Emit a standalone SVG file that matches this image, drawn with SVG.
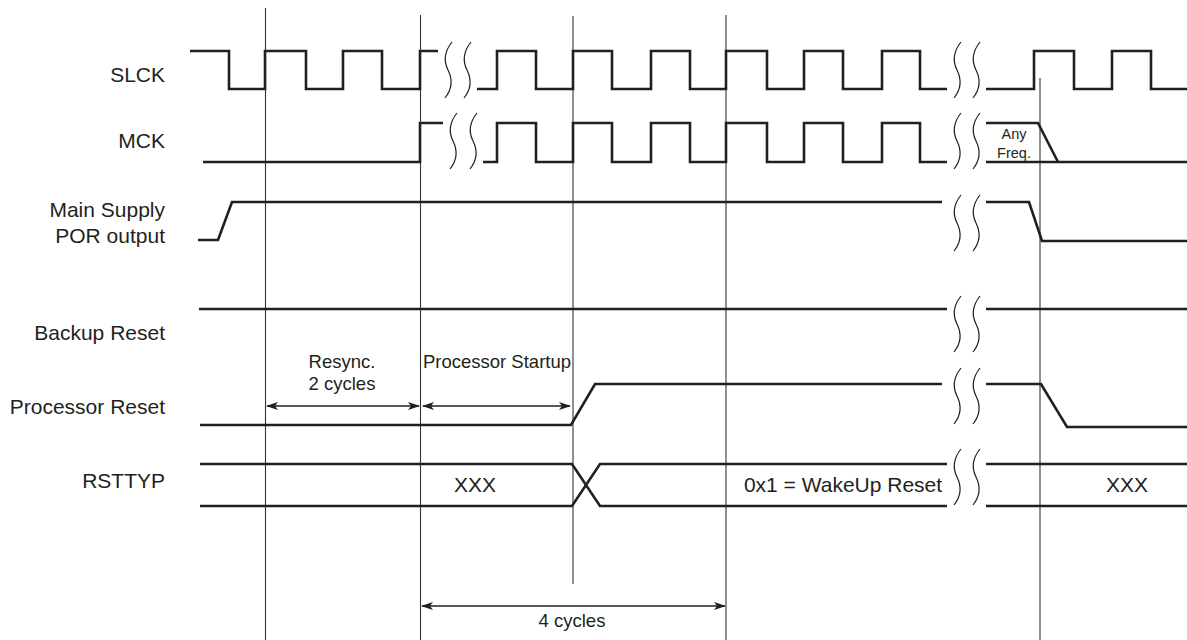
<svg xmlns="http://www.w3.org/2000/svg" width="1187" height="640" viewBox="0 0 1187 640">
<style>
  .sig { fill: none; stroke: #231f20; stroke-width: 2.6; stroke-linejoin: miter; }
  .grid { stroke: #333; stroke-width: 1.1; }
  .brk { fill: none; stroke: #231f20; stroke-width: 1.2; }
  .arr { stroke: #231f20; stroke-width: 1.4; marker-start: url(#ah); marker-end: url(#ah); }
  .lbl { font-family: "Liberation Sans", Arial, sans-serif; font-size: 21px; fill: #231f20; }
  .ann { font-family: "Liberation Sans", Arial, sans-serif; font-size: 18.5px; fill: #231f20; }
  .small { font-family: "Liberation Sans", Arial, sans-serif; font-size: 14.5px; fill: #231f20; }
</style>
<defs>
  <marker id="ah" viewBox="0 0 12 8" refX="11" refY="4" markerWidth="12" markerHeight="8" markerUnits="userSpaceOnUse" orient="auto-start-reverse">
    <path d="M0,0 L12,4 L0,8 L3,4 Z" fill="#231f20"/>
  </marker>
  <path id="bk" class="brk" d="M9,0 C1,10 1,20 5,28 C9,36 10,46 2,56"/>
</defs>
<rect width="1187" height="640" fill="#fff"/>

<g id="gridlines">
  <line class="grid" x1="265.5" y1="8" x2="265.5" y2="640"/>
  <line class="grid" x1="420.5" y1="15" x2="420.5" y2="640"/>
  <line class="grid" x1="573" y1="16" x2="573" y2="584"/>
  <line class="grid" x1="726" y1="15" x2="726" y2="640"/>
  <line class="grid" x1="1040" y1="78" x2="1040" y2="640"/>
</g>

<g id="slck">
  <text class="lbl" x="165" y="82" text-anchor="end">SLCK</text>
  <path class="sig" d="M190,51 H229 V89 H265 V51 H306 V89 H343 V51 H382 V89 H420 V51 H438"/>
  <path class="sig" d="M477,89 H497 V51 H536 V89 H573 V51 H612 V89 H651 V51 H690 V89 H726 V51 H767 V89 H804 V51 H843 V89 H882 V51 H920 V89 H947"/>
  <path class="sig" d="M986,89 H1034 V51 H1074 V89 H1112 V51 H1151 V89 H1187"/>
  <use href="#bk" x="443" y="42"/>
  <use href="#bk" x="462" y="42"/>
  <use href="#bk" x="952" y="42"/>
  <use href="#bk" x="971" y="42"/>
</g>

<g id="mck">
  <text class="lbl" x="165" y="148" text-anchor="end">MCK</text>
  <path class="sig" d="M203,162 H420 V123 H443"/>
  <path class="sig" d="M483,162 H497 V123 H536 V162 H573 V123 H612 V162 H651 V123 H690 V162 H726 V123 H767 V162 H804 V123 H843 V162 H882 V123 H920 V162 H947"/>
  <path class="sig" d="M986,123 H1038 L1058,162"/>
  <path class="sig" d="M986,162 H1187"/>
  <text class="small" x="1014" y="139" text-anchor="middle">Any</text>
  <text class="small" x="1014" y="158" text-anchor="middle">Freq.</text>
  <use href="#bk" x="448" y="113"/>
  <use href="#bk" x="468" y="113"/>
  <use href="#bk" x="952" y="113"/>
  <use href="#bk" x="971" y="113"/>
</g>

<g id="por">
  <text class="lbl" x="165" y="217" text-anchor="end">Main Supply</text>
  <text class="lbl" x="165" y="243" text-anchor="end">POR output</text>
  <path class="sig" d="M198,240 H218 L232,202 H942"/>
  <path class="sig" d="M986,202 H1029 L1042,241 H1187"/>
  <use href="#bk" x="952" y="195"/>
  <use href="#bk" x="971" y="195"/>
</g>

<g id="backup-reset">
  <text class="lbl" x="165" y="340" text-anchor="end">Backup Reset</text>
  <path class="sig" d="M199,309 H947"/>
  <path class="sig" d="M986,309 H1187"/>
  <use href="#bk" x="952" y="296"/>
  <use href="#bk" x="971" y="296"/>
</g>

<g id="processor-reset">
  <text class="lbl" x="165" y="414" text-anchor="end">Processor Reset</text>
  <path class="sig" d="M200,425 H571 L595,384 H942"/>
  <path class="sig" d="M986,384 H1041 L1067,427 H1187"/>
  <use href="#bk" x="952" y="368"/>
  <use href="#bk" x="971" y="368"/>
</g>

<g id="rsttyp">
  <text class="lbl" x="165" y="488" text-anchor="end">RSTTYP</text>
  <path class="sig" d="M200,464 H572 L600,506 H947"/>
  <path class="sig" d="M200,506 H572 L600,464 H947"/>
  <path class="sig" d="M986,464 H1187"/>
  <path class="sig" d="M986,506 H1187"/>
  <text class="lbl" x="475" y="492" text-anchor="middle">XXX</text>
  <text class="lbl" x="843" y="492" text-anchor="middle">0x1 = WakeUp Reset</text>
  <text class="lbl" x="1127" y="492" text-anchor="middle">XXX</text>
  <use href="#bk" x="952" y="449"/>
  <use href="#bk" x="971" y="449"/>
</g>

<g id="annotations">
  <text class="ann" x="342" y="368" text-anchor="middle">Resync.</text>
  <text class="ann" x="342" y="390" text-anchor="middle">2 cycles</text>
  <text class="ann" x="497" y="368" text-anchor="middle">Processor Startup</text>
  <text class="ann" x="572" y="627" text-anchor="middle">4 cycles</text>
</g>

<g id="connectors">
  <line class="arr" x1="267" y1="406" x2="419" y2="406"/>
  <line class="arr" x1="423" y1="406" x2="570" y2="406"/>
  <line class="arr" x1="422" y1="606" x2="725" y2="606"/>
</g>
</svg>
